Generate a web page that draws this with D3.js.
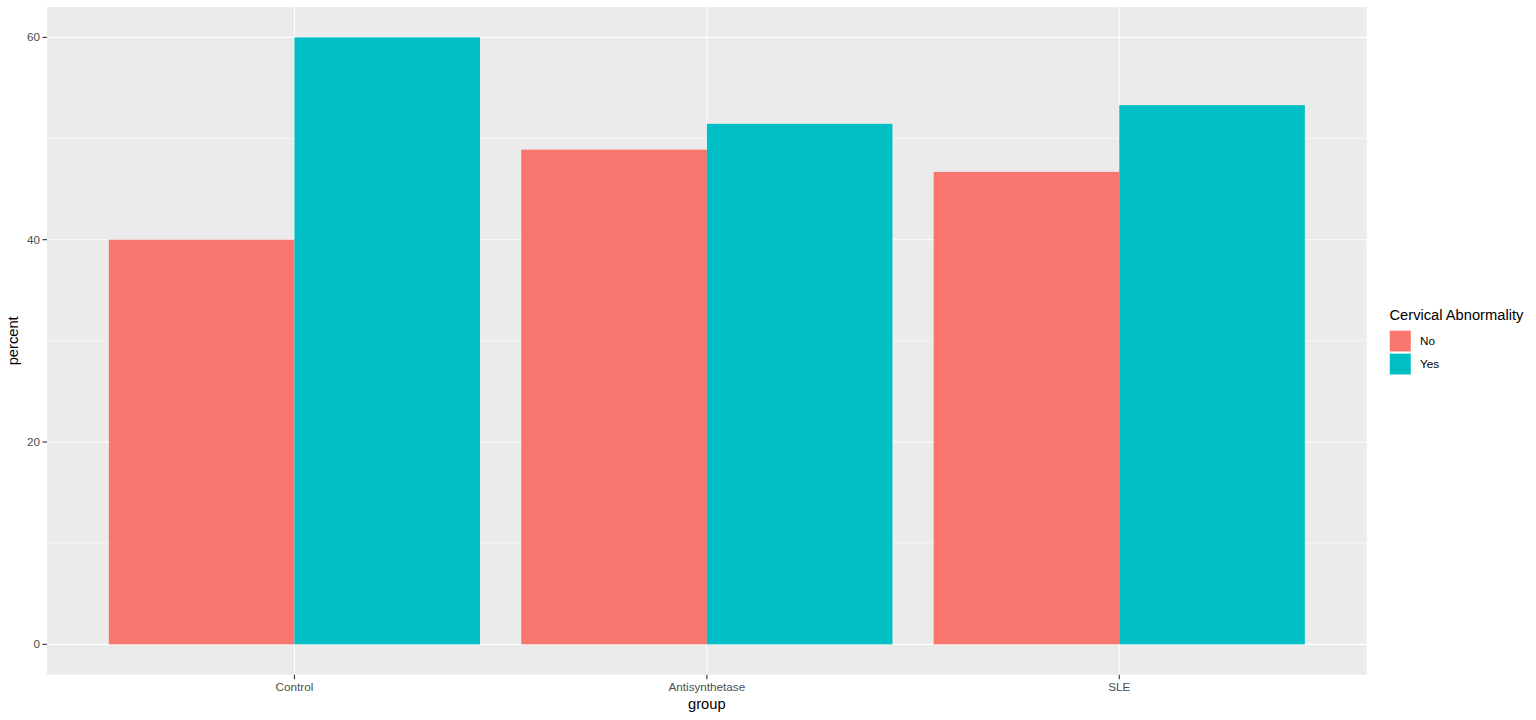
<!DOCTYPE html>
<html><head><meta charset="utf-8">
<script src="https://cdn.jsdelivr.net/npm/d3@7"></script>
<style>body{margin:0;background:#fff;} svg{display:block;font-family:"Liberation Sans",Arial,Helvetica,sans-serif;}</style>
</head><body>
<script>
const categories = ["Control", "Antisynthetase", "SLE"];
const seriesNames = ["No", "Yes"];
const noValues = [40, 48.9, 46.7];
const yesValues = [60, 51.45, 53.3];
const yTicks = [0, 20, 40, 60];
const yMinor = [10, 30, 50];
const colors = ["#F8766D", "#00BFC4"];

const W = 1536, H = 720;
const panel = {left: 47, top: 7, right: 1366.7, bottom: 674.7};
const svg = d3.select("body").append("svg").attr("width", W).attr("height", H);

const y = d3.scaleLinear().domain([-3, 63]).range([panel.bottom, panel.top]);
const x = d3.scaleBand().domain(categories).range([panel.left, panel.right]).paddingOuter(0.1).paddingInner(0);
// ggplot: 0.6 expand each side of unit spacing => compute manually via band with padding
const unit = (panel.right - panel.left) / 3.2;
const cx = c => panel.left + unit * (0.6 + categories.indexOf(c));
const xSub = d3.scaleBand().domain(seriesNames).range([-0.45 * unit, 0.45 * unit]);

svg.append("rect").attr("x", panel.left).attr("y", panel.top)
  .attr("width", panel.right - panel.left).attr("height", panel.bottom - panel.top).attr("fill", "#EBEBEB");

const g = svg.append("g");
yMinor.forEach(v => g.append("line").attr("x1", panel.left).attr("x2", panel.right)
  .attr("y1", y(v)).attr("y2", y(v)).attr("stroke", "#fff").attr("stroke-width", 0.55));
yTicks.forEach(v => g.append("line").attr("x1", panel.left).attr("x2", panel.right)
  .attr("y1", y(v)).attr("y2", y(v)).attr("stroke", "#fff").attr("stroke-width", 1.1));
categories.forEach(c => g.append("line").attr("x1", cx(c)).attr("x2", cx(c))
  .attr("y1", panel.top).attr("y2", panel.bottom).attr("stroke", "#fff").attr("stroke-width", 1.1));

const data = [];
categories.forEach((c, i) => {
  data.push({cat: c, s: "No", v: noValues[i]});
  data.push({cat: c, s: "Yes", v: yesValues[i]});
});
svg.append("g").selectAll("rect").data(data).join("rect")
  .attr("x", d => cx(d.cat) + xSub(d.s))
  .attr("width", xSub.bandwidth())
  .attr("y", d => y(d.v))
  .attr("height", d => y(0) - y(d.v))
  .attr("fill", d => colors[seriesNames.indexOf(d.s)]);

// Y axis
const ya = svg.append("g");
yTicks.forEach(v => {
  ya.append("line").attr("x1", panel.left - 4.5).attr("x2", panel.left).attr("y1", y(v)).attr("y2", y(v))
    .attr("stroke", "#333").attr("stroke-width", 1.1);
  ya.append("text").attr("x", panel.left - 7).attr("y", y(v)).attr("dy", "0.35em")
    .attr("text-anchor", "end").attr("font-size", "11.7px").attr("fill", "#4D4D4D").text(v);
});
// X axis
const xa = svg.append("g");
categories.forEach(c => {
  xa.append("line").attr("x1", cx(c)).attr("x2", cx(c)).attr("y1", panel.bottom).attr("y2", panel.bottom + 4.5)
    .attr("stroke", "#333").attr("stroke-width", 1.1);
  xa.append("text").attr("x", cx(c)).attr("y", panel.bottom + 16).attr("text-anchor", "middle")
    .attr("font-size", "11.7px").attr("fill", "#4D4D4D").text(c);
});

svg.append("text").attr("x", (panel.left + panel.right) / 2).attr("y", 709).attr("text-anchor", "middle")
  .attr("font-size", "14.7px").attr("fill", "#000").text("group");
svg.append("text").attr("transform", `translate(18,${(panel.top + panel.bottom) / 2}) rotate(-90)`)
  .attr("text-anchor", "middle").attr("font-size", "14.7px").attr("fill", "#000").text("percent");

// Legend
const lg = svg.append("g").attr("transform", "translate(1389.5,0)");
lg.append("text").attr("x", 0).attr("y", 320).attr("font-size", "14.7px").attr("fill", "#000").text("Cervical Abnormality");
seriesNames.forEach((s, i) => {
  lg.append("rect").attr("x", 0).attr("y", 330.3 + i * 23).attr("width", 21.5).attr("height", 21.5)
    .attr("fill", colors[i]).attr("stroke", "#fff").attr("stroke-width", 0.5);
  lg.append("text").attr("x", 30.5).attr("y", 330.3 + i * 23 + 10.75).attr("dy", "0.35em")
    .attr("font-size", "11.7px").attr("fill", "#000").text(s);
});
</script>
</body></html>
